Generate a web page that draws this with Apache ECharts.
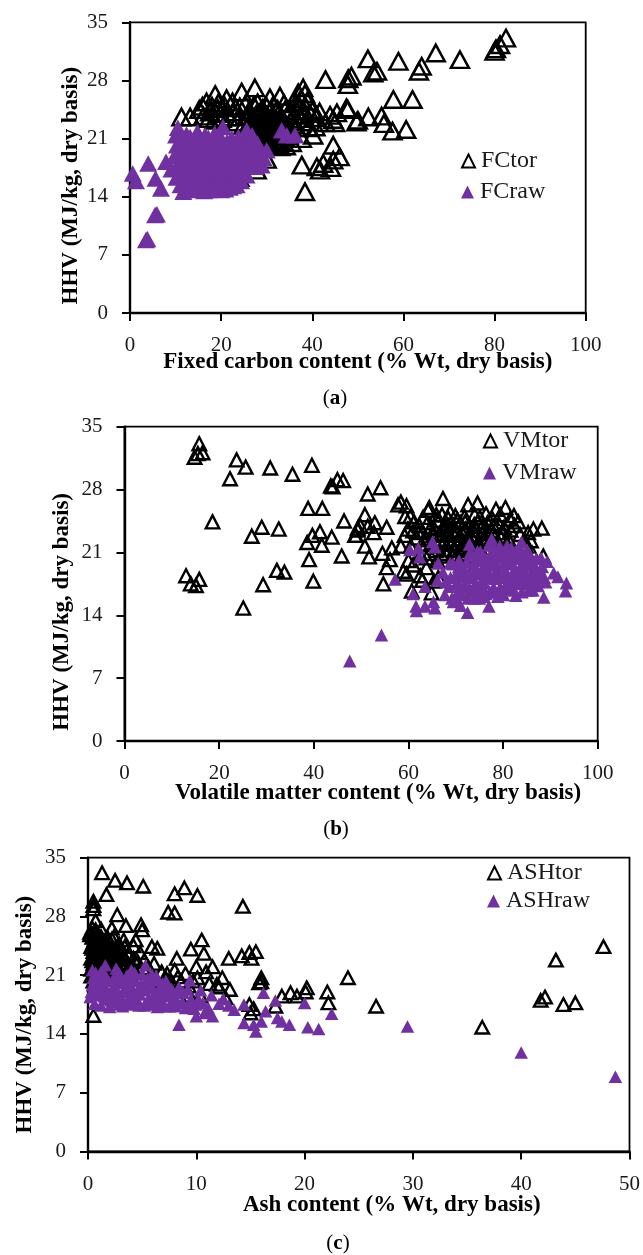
<!DOCTYPE html>
<html><head><meta charset="utf-8">
<style>html,body{margin:0;padding:0;background:#fff}#c{width:643px;height:1255px}</style>
<script src="https://cdn.jsdelivr.net/npm/echarts@6/dist/echarts.min.js"></script>
</head><body><div id="c"></div>
<script>
const fcTor=[[82.5,33.1],[81.2,32.3],[80.3,31.8],[80,31.5],[72.4,30.5],[67.1,31.3],[58.9,30.3],[52.2,30.6],[54.2,29.1],[53.4,28.9],[64,29.7],[63.4,29.1],[42.9,28.1],[48.6,28.5],[47.9,28.2],[47.8,27.5],[57.8,25.7],[62,25.7],[47.8,24.5],[45.4,24.1],[43.9,23.8],[44.6,23.3],[45,22.9],[50,23.2],[52.3,23.6],[55.2,23.7],[55.7,22.8],[57.6,21.9],[60.6,22.1],[44.6,20.2],[46,18.8],[44.6,18.4],[42.4,18],[44.1,17.5],[41.7,17.2],[38.4,14.6],[37.7,17.8],[41,17.6],[40.2,21.4],[37.7,21],[38,27.1],[38.4,26.4],[36.9,26.5],[40.2,24.5],[37.5,25.8],[38.9,25.5],[39.5,24],[36.6,24.4],[47.5,24.7],[49.7,23],[27.4,27.1],[24.5,26.6],[18.7,26.3],[11.3,23.6],[13.2,23.6],[16.8,25.4],[15.9,24.9],[15.2,24.5],[21.2,25.8],[30.7,25.9],[32.9,26.1],[24.1,24.8],[17.6,24.2],[19.3,24.6],[20.8,24.9],[22.7,24.2],[25.7,23.8],[31.4,25],[33.8,25.2],[35,24.3],[29.1,24.6],[26.2,24.4],[18.5,23.2],[16.1,23.7],[20.1,23.4],[23.5,23],[24.9,22.6],[26.6,23.3],[27.7,23.9],[28.3,22.9],[29,23.4],[29.7,22.5],[30.3,23.6],[31,22.8],[31.8,23.3],[32.4,22.4],[33.1,23],[27.3,22.1],[28.1,21.7],[28.9,22.2],[29.5,21.4],[30.4,21.9],[31.1,21.2],[32,21.6],[26.6,21.5],[33.4,21.9],[34.2,22.6],[35.2,23.1],[36.1,22.7],[34.8,21.4],[33,20.7],[32.1,20.4],[30.6,20.6],[29.4,20.9],[28.2,20.7],[27.1,20.3],[33,20],[35.5,20.5],[24,16.3],[27.8,17.2],[24.5,18],[22.6,17.1],[30,18.5],[26.6,19.2],[36.6,22.3],[38.8,23],[40.8,23.5],[42.9,22.9],[34.2,20.1],[28.6,24.2],[25.3,25.1],[22.5,25.4]];
const fcTorDense=[[26.3,22.8],[26.9,21.9],[27.5,23.1],[27.9,22.4],[28.5,21.2],[28.7,23.4],[29.2,22.7],[29.6,21.9],[29.9,23.2],[30.1,21.1],[30.7,22.3],[30.9,23.4],[31.3,21.7],[31.6,22.4],[31.9,20.9],[32.2,23],[32.6,21.8],[32.9,22.5],[33.2,21.2],[33.6,22.4],[27.6,20.9],[28.4,22.4],[29.1,20.6],[30.2,20.3],[31.4,20.1],[32.5,20.8],[26.1,20.8],[27,22.6],[25.6,22.2],[28.8,21.6],[30,22.6],[31.2,22.6],[32.8,23.4],[34,21.3],[34.9,22.2],[35.6,21.7],[17.3,23.4],[19.9,24],[21.6,23.6],[24.2,23.6],[18,24.9],[23.1,24.7],[19.4,25.3],[27.2,25],[28,25.3],[30,24.8],[32.4,24.5],[34,24.4],[36.4,25.3],[37.2,24.9],[38.2,24.3],[41.6,24.2],[36.1,23.8],[37.4,23.4],[39.1,22.3],[40.7,22.4]];
const fcRaw=[[0.6,16.8],[1.3,15.9],[4,18],[5.6,16.2],[6.8,15],[7.9,18.2],[10.5,22.3],[33.3,22],[36.2,21.4],[34.4,21.4],[20.4,22.4],[25.6,22],[28,20.4],[30,19.6],[25.9,17.8],[28.9,17.8],[5.5,11.8],[5.9,11.9],[3.5,8.8],[3.8,8.9],[9.1,17.3],[9.8,18.9],[10.2,16.3],[10.9,19.7],[11.1,15.4],[11.5,20.8],[11.7,14.6],[12.1,17.8],[12.4,21.5],[12.7,16.1],[13,18.9],[13.3,20.1],[13.6,14.8],[13.9,15.6],[14.2,17.1],[14.5,19.2],[14.8,21.8],[15.1,16.7],[15.4,18.2],[15.7,20.6],[16,15.2],[16.3,14.7],[16.6,17.6],[16.9,19.5],[17.2,21.1],[17.5,15.9],[17.8,18.6],[18.1,14.9],[18.4,20.3],[18.7,16.8],[19,17.9],[19.3,19.1],[19.6,21.4],[19.9,15.3],[20.2,16.2],[20.5,18.3],[20.8,20],[21.1,17.2],[21.4,15.6],[21.7,19.3],[22,16.4],[22.3,21],[22.6,18.1],[22.9,20.1],[23.2,16.9],[23.5,19.1],[23.8,21.2],[24.1,17.9],[24.4,15.9],[24.7,18.7],[25,20.3],[25.3,19.4],[25.6,16.6],[26.2,20.9],[26.5,18.8],[27.1,19.6],[27.5,17.6],[28.5,19.3],[29.3,18.7],[12.6,19.4],[14.1,20.5],[15.3,15.1],[17.1,16.1],[18.9,15.2],[20.9,14.9],[11.4,18.3],[13.5,16.5],[16.2,19.8],[18.3,17.6],[22.1,17.7],[24.6,20.6],[26.8,21.4]];
const fcRawDense=[[10.3,20.2],[10.7,18],[11.2,16.9],[11.9,19.1],[12.3,15.2],[12.8,20.7],[13.1,17.4],[13.7,18.4],[14,19.9],[14.4,16],[14.7,14.9],[15,20.9],[15.6,17.5],[15.9,16.3],[16.4,18.7],[16.7,15.6],[17,20.1],[17.4,17.2],[17.7,15.1],[18,19.3],[18.6,15.8],[19.1,20.8],[19.5,16.6],[19.8,18.8],[20,14.8],[20.3,17.4],[20.7,19.2],[21,15.4],[21.3,20.6],[21.6,18.4],[21.9,15.1],[22.4,19.6],[22.8,16],[23.1,17.9],[23.4,15.4],[23.7,18.5],[24,20],[10.1,21.4],[11,21.6],[12,20.4],[13.2,21.2],[14.6,21],[16.5,21.4],[18.6,21.6],[12.9,14.9],[14.9,15.3],[17.3,14.8],[19.2,14.9],[22.6,15.3],[24.9,17.2]];
const vmTor=[[15.8,33.1],[16.5,32.1],[15.5,32],[14.8,31.6],[23.7,31.3],[25.6,30.5],[30.8,30.4],[35.5,29.7],[39.6,30.7],[22.3,29.2],[45,29.1],[46.2,29],[43.6,28.4],[44,28.3],[38.8,25.9],[41.8,25.9],[18.6,24.4],[46.4,24.5],[29,23.8],[32.6,23.6],[26.9,22.8],[41.3,23.3],[39.7,22.9],[43.8,22.7],[38.6,22.1],[41.7,21.8],[45.9,20.6],[39,20.2],[32.2,19],[33.8,18.8],[39.9,17.8],[29.3,17.4],[13,18.4],[15.8,18],[14,17.5],[15.1,17.3],[25.1,14.8],[49.3,23.5],[48.7,22.9],[49.8,24],[51.4,27.5],[54.1,28.2],[58.4,26.6],[57.8,26.3],[59.6,26.2],[67.3,27],[64.4,26],[64.2,25.7],[59.3,25],[68.8,25.5],[72.6,26.3],[74.6,26.5],[78.5,25.8],[80.5,26],[79.4,25.2],[75.1,24.9],[81.5,24.7],[83.2,24.4],[82.3,25.1],[86.4,23.6],[88.2,23.7],[50.8,25.2],[49.3,23.7],[51.4,23.9],[52.9,24.3],[55.4,23.8],[52.7,23.2],[48.9,22.9],[50.8,21.7],[51.7,20.5],[54.5,20.9],[56.5,21.5],[58.4,21.7],[56.1,20.2],[55.4,19.3],[58.9,18.9],[59.6,18.6],[54.7,17.5],[60.7,16.7],[62.5,18.4],[64.9,16.5],[60.4,25],[61.2,24.4],[62.3,24],[63,23.3],[64.7,23.8],[66,24.6],[67.4,23.9],[68.4,24.8],[69.5,24],[70.2,23.2],[71,24.3],[72.1,23.6],[73.2,22.9],[74.3,23.5],[75.6,23.9],[76.7,24.3],[77.5,23.4],[78.4,22.8],[79.8,23.2],[81.2,22.4],[65.2,22.9],[66.7,22.3],[68,22.9],[69,21.9],[70.6,22.5],[71.8,21.6],[73,22.3],[74.7,21.8],[75.9,22.6],[77,21.4],[65.8,21.2],[67.2,20.6],[68.5,21.3],[70,20.4],[71.4,20.9],[72.9,20.5],[74.2,20.8],[63.8,20.4],[62.8,21.9],[61.7,22.6],[60.5,21.7],[59.2,22.9],[66.3,18.2],[63.8,19.3],[88.5,20.6],[86.2,20.9],[84.8,21.7],[83,20.9],[81.8,21.2],[61,19.6],[65.4,17.8]];
const vmTorDense=[[62.1,23.2],[63.3,22.4],[64,24.3],[64.9,22.1],[65.5,23.6],[66.2,21.7],[66.9,23.1],[67.5,22.1],[68.1,24],[68.7,22.4],[69.3,23.3],[69.8,21.4],[70.4,24.6],[70.9,22.9],[71.4,21.9],[72,24.4],[72.5,22.6],[73.1,21.4],[73.6,23.5],[74.1,22.7],[74.7,24.4],[75.2,21.4],[75.7,23.1],[76.3,22.1],[76.9,23.2],[77.4,22.5],[78,23.9],[78.7,21.9],[79.1,24.2],[79.6,22.6],[80.2,23.8],[80.9,21.9],[81.6,23.5],[82.4,24],[67.9,20.9],[69.5,20.7],[70.9,21.2],[72.3,20.8],[73.7,20.6],[75.4,20.5],[64.4,20.9],[66.1,20.1],[65.9,25.2],[69.9,25.1],[71.9,25],[74,25.2],[76.4,25.3],[61,23.4],[62.5,20.8],[63.1,24.9],[67.1,25.2],[68.2,23.5],[71.5,23],[73.9,24.1],[77.7,24.8],[83.6,23],[84.5,22.4],[85.3,23.2],[85.9,22.3],[60,20.1],[62.9,17.9],[59.9,23.6]];
const vmRaw=[[47.6,8.9],[54.3,11.8],[57.2,18],[60.3,21.3],[62.1,21.5],[62.4,20.5],[65.1,22.2],[65.6,21.6],[66.3,19.8],[72.9,21.9],[77.6,22.5],[83.9,22.2],[68.8,19.8],[63.5,17.2],[66.1,17.9],[61,16.4],[61.6,15],[61.7,14.5],[65.3,15.5],[65.6,14.8],[63.5,15],[67.7,16.3],[69.5,15.5],[72.5,14.3],[77,15],[82.7,16.2],[88.6,16],[93.2,16.7],[93.4,17.6],[91.6,18.3],[89.3,20],[90.7,18.7],[86.3,16.8],[87.1,17.6],[78.9,16.1],[68.6,17.2],[69.9,18.4],[70.4,16.6],[71.3,19.1],[71.9,17.4],[72.6,15.9],[73.2,18.2],[73.8,19.7],[74.4,16.9],[74.9,18.6],[75.5,20.6],[76.1,17.6],[76.6,19.1],[77.2,16.6],[77.8,20.1],[78.3,18.1],[78.9,19.5],[79.4,17.1],[79.9,20.9],[80.5,18.7],[81,16.9],[81.5,19.9],[82.1,18.1],[82.6,21.1],[83.2,17.5],[83.7,19.3],[84.3,20.7],[84.8,18.3],[85.4,16.8],[85.9,19.6],[86.5,18.5],[87,20.3],[87.7,18.9],[88.3,19.4],[89,17.7],[75.2,21.1],[73.6,20.6],[70.7,20.1],[78.1,21.4],[80.8,21.7],[82.9,20.4],[85.1,21.3],[69.2,15.9],[67.3,18.8],[71,15.1],[75,15.9],[80.1,16.3],[84,16.6]];
const vmRawDense=[[70.1,17.5],[71,18.3],[71.6,16.3],[72.3,19.9],[72.9,17],[73.5,16.7],[74.1,18.7],[74.7,20.1],[75.3,17.1],[75.8,19.4],[76.4,16.4],[76.9,18.3],[77.5,20.9],[78,17.1],[78.6,18.9],[79.1,20.4],[79.7,16.7],[80.2,19.3],[80.8,17.6],[81.3,20.6],[81.9,17],[82.4,19.1],[83,18.4],[83.5,20.3],[84.1,17.8],[84.6,19.7],[85.2,17.5],[85.7,20.7],[86.2,17.9],[86.9,19.2],[87.4,17.3],[88,20.4],[88.7,18.2],[72.1,18.8],[73,20.9],[74.6,21.1],[76.2,20.4],[77,21.8],[79.3,21.7],[80.5,21.1],[81.7,21.5],[83.4,21.5],[84.7,20.2],[86.1,20.1],[70.6,19.4],[69.4,19.7],[68.9,18.2],[67.9,17.7],[78.2,16.6],[82.3,16.8],[76,16.1],[73.9,15.9],[70,15.9],[70.9,17.2],[72.7,18.5],[74.2,17.6],[75.9,18.2],[77.3,19.6],[79,18.2],[80.4,19.9],[82,19.7],[83.3,19],[84.6,18.9],[86,18.8],[87.4,18.4],[73.4,19.3],[76.6,20.2],[78.8,20.8],[81,18.3]];
const ashTor=[[1.3,33.2],[2.5,32.3],[3.6,32],[5.1,31.6],[1.7,30.6],[8.9,31.4],[8,30.7],[10.1,30.5],[14.3,29.2],[0.5,29.8],[0.5,29.3],[0.5,28.9],[2.7,28.2],[7.4,28.5],[8,28.4],[0.7,27.5],[3.5,26.9],[4.9,27],[5,26.4],[2.2,26.6],[1.2,26.5],[10.5,25.2],[5.9,24.4],[6.4,24.2],[9.5,24.1],[10.7,23.6],[3.7,23.4],[4.6,22.6],[8.2,23],[13,23],[14.2,23.3],[14.9,23.7],[15.5,23.8],[15.1,23],[10,22],[11.5,22],[10.9,21.4],[8,21.6],[6.8,21.4],[12.4,20.7],[16,20.7],[16,20.2],[24,20.7],[20.2,19.5],[22.1,19],[22.2,17.7],[18.7,18.9],[17.9,18.5],[19.3,18.5],[20.1,19],[14.9,17.5],[15.3,17],[15,16.5],[0.5,16.2],[17.3,17.3],[12.1,19.6],[7.5,18.9],[10.4,18.5],[11.2,20],[26.6,17.3],[36.4,14.8],[47.6,24.4],[43.2,22.8],[41.8,18],[42.2,18.4],[43.9,17.5],[45,17.7],[0.2,25.8],[0.4,26.6],[0.6,25.2],[0.8,26.1],[1,24.9],[1.2,25.6],[1.4,24.3],[1.6,25.1],[1.8,24.6],[2,23.9],[2.2,25.3],[0.3,24.4],[0.5,23.8],[0.7,24.7],[0.9,23.2],[1.1,23.9],[1.3,22.8],[1.5,23.5],[1.7,22.4],[1.9,23.1],[2.1,22.2],[2.4,24.1],[2.6,23.3],[2.9,24.7],[3.2,22.5],[0.4,22.7],[0.6,22],[0.8,21.4],[1,22.3],[1.2,21.1],[1.4,21.8],[1.7,21.2],[2,21.6],[2.3,20.9],[2.8,21.9],[3.1,23.6],[3.5,21.2],[4.1,22],[0.3,20.9],[0.5,20.3],[5.3,21.3],[5.9,20.3],[6.5,19.6],[7.2,20.6],[8.6,20.3],[9.3,19.7],[4.5,19.6],[3.3,25.2],[4.2,24.5],[4.4,25.2]];
const ashTorDense=[[0.2,26.1],[0.4,25.5],[0.5,24.9],[0.6,23.4],[0.7,26.4],[0.8,24.2],[0.9,25.4],[1,23.6],[1.1,24.6],[1.2,22.6],[1.3,25],[1.4,23.1],[1.5,24.6],[1.6,22.9],[1.7,23.9],[1.8,25.5],[1.9,22.1],[2,24.9],[2.1,23.6],[2.2,24.4],[2.3,22.6],[2.4,25.6],[2.5,23.8],[2.6,22.1],[2.7,24.3],[2.8,23.1],[2.9,22.4],[3,24],[3.1,22.2],[3.3,23.3],[3.4,24.4],[3.6,22.4],[3.8,23.6],[4,21.6],[4.2,23],[4.4,21.4],[0.3,23],[0.5,22.4],[0.7,21.1],[0.9,21.9],[1.1,21.5],[1.3,20.7],[1.5,22.3],[1.8,21.9],[2.1,20.8],[2.5,21.4],[3,21],[3.4,20.5],[0.3,21.7],[0.4,24.2],[4.8,23.7],[5.2,22.8],[5.6,21.9],[6.1,22.4],[7.3,21.2],[7.7,20.2],[8.3,20.8],[9,21.2],[9.7,20.3],[10.1,20.7],[11.9,19.9],[13.1,19.3],[12.7,18.3],[15.8,20.1],[9.4,18.6],[8.5,18.3]];
const ashRaw=[[40,11.8],[48.7,8.9],[29.5,14.9],[5.3,22.2],[4,21.6],[1.6,22.2],[0.4,21.6],[2.6,21.8],[6.5,20.4],[9.4,20.4],[10.4,19.2],[11.4,18.6],[8.8,18.9],[12.5,18.2],[16.2,18.9],[17.3,18],[20,17.7],[22.5,16.4],[8.4,15.1],[14.4,17.5],[13.5,16.9],[14.4,15.3],[15.5,14.3],[15.3,15.1],[16.4,16.7],[17.5,15.9],[17.9,15.5],[18.6,15.1],[20.3,14.8],[21.3,14.6],[11.1,17.1],[10,16.1],[11.5,16.1],[16,15.5],[0.2,18.4],[0.4,19.8],[0.6,17.6],[0.8,20.6],[1,18.9],[1.2,17.4],[1.4,19.9],[1.6,21],[1.8,18.2],[2,17.2],[2.2,19.3],[2.4,20.7],[2.6,17.8],[2.8,18.8],[3,20.1],[3.2,17.3],[3.4,19.5],[3.6,21],[3.8,18.1],[4,17.5],[4.2,19.1],[4.4,20.3],[4.6,17.9],[4.8,18.7],[5,21.1],[5.2,17.4],[5.4,19.6],[5.6,18.3],[5.8,17.8],[6,20.4],[6.2,18.9],[6.4,17.2],[6.6,19.4],[6.8,17.7],[7,18.5],[7.3,19.4],[7.5,17.3],[7.8,18],[8.1,17.3],[8.4,19.6],[8.7,17.8],[9,17.1],[9.5,18.1],[10,17.5],[10.8,16.6],[7.2,20.3],[3.1,18.4],[1.1,20.1],[2.3,18.6],[4.9,19.9],[9.8,17],[11,16.5],[13,17.4],[12.1,17.6]];
const ashRawDense=[[0.3,19],[0.5,20.7],[0.7,18.6],[0.9,19.6],[1.3,20.9],[1.5,18.5],[1.7,19.3],[1.9,20.3],[2.1,18],[2.5,19.6],[2.7,21],[2.9,17.5],[3.3,19],[3.5,20.4],[3.7,17.9],[3.9,19.9],[4.1,18.5],[4.3,21.3],[4.5,18.9],[4.7,17.4],[5.1,19.2],[5.5,20.6],[5.7,17.5],[5.9,19.5],[6.1,18.2],[6.3,20.9],[6.5,17.7],[6.7,18.6],[6.9,20],[7.1,17.3],[7.4,18.7],[7.7,19.4],[8,18.4],[8.3,17.7],[8.6,18.9],[9.2,19.3],[9.6,17.6],[10.2,18.1],[10.6,17.7],[1.2,21.4],[2.9,21.2],[3.9,20.8],[0.7,21.3],[5.9,21.1]];
const F='"Liberation Serif",serif';
const panels=[
 {n:'a',torName:'FCtor',rawName:'FCraw',tor:fcTor.concat(fcTorDense),raw:fcRaw.concat(fcRawDense),xMax:100,xInt:20,xName:'Fixed carbon content (% Wt, dry basis)',yPad:[0,36,0,0],xPad:[0,0,0,0],yGap:47,xGap:38,
  g:{left:130,top:22.3,width:455.7,height:290.7},sz:[18,16.5],bw:2.5,leg:[[461,149],[461,180]]},
 {n:'b',torName:'VMtor',rawName:'VMraw',tor:vmTor.concat(vmTorDense),raw:vmRaw.concat(vmRawDense),xMax:100,xInt:20,xName:'Volatile matter content (% Wt, dry basis)',yPad:[0,56,0,0],xPad:[0,0,0,34],yGap:51,xGap:41,
  g:{left:124.5,top:426.7,width:473.2,height:314.3},sz:[13.5,13],bw:2.4,leg:[[483,429],[483,461]]},
 {n:'c',torName:'ASHtor',rawName:'ASHraw',tor:ashTor.concat(ashTorDense),raw:ashRaw.concat(ashRawDense),xMax:50,xInt:10,xName:'Ash content (% Wt, dry basis)',yPad:[0,20,0,0],xPad:[0,0,0,66],yGap:51,xGap:42,
  g:{left:88,top:857.7,width:544,height:293.8},sz:[13.5,12.5],bw:2.4,leg:[[487,861],[487,889]]}
];
const grid=[],xAxis=[],yAxis=[],series=[],legend=[],title=[];
const axisLine={show:true,onZero:false,lineStyle:{color:'#000',width:2.4}};
const axisTick={show:true,length:8,inside:false,lineStyle:{color:'#000',width:2}};
panels.forEach((p,i)=>{
 grid.push(Object.assign({show:true,borderColor:'#000',borderWidth:1.8,backgroundColor:'transparent',containLabel:false},p.g));
 xAxis.push({type:'value',gridIndex:i,min:0,max:p.xMax,interval:p.xInt,splitLine:{show:false},axisLine,axisTick,
  axisLabel:{margin:22,fontFamily:F,fontSize:21,color:'#1a1a1a',hideOverlap:false},
  name:p.xName,nameLocation:'middle',nameGap:p.xGap,nameMoveOverlap:false,nameTextStyle:{fontFamily:F,fontWeight:'bold',fontSize:23,color:'#000',padding:p.xPad}});
 yAxis.push({type:'value',gridIndex:i,min:0,max:35,interval:7,splitLine:{show:false},axisLine,axisTick,
  axisLabel:{margin:22,fontFamily:F,fontSize:21,color:'#1a1a1a'},
  name:'HHV (MJ/kg, dry basis)',nameLocation:'middle',nameRotate:90,nameGap:p.yGap,nameMoveOverlap:false,nameTextStyle:{fontFamily:F,fontWeight:'bold',fontSize:23,color:'#000',padding:p.yPad}});
 series.push({name:p.torName,type:'scatter',xAxisIndex:i,yAxisIndex:i,symbol:'triangle',symbolSize:p.sz,data:p.tor,z:2,large:false,
  itemStyle:{color:'rgba(0,0,0,0)',borderColor:'#000',borderWidth:p.bw,opacity:1},emphasis:{disabled:true}});
 series.push({name:p.rawName,type:'scatter',xAxisIndex:i,yAxisIndex:i,symbol:'triangle',symbolSize:p.sz,data:p.raw,z:3,large:false,
  itemStyle:{color:'#7030A0',opacity:1},emphasis:{disabled:true}});
 [p.torName,p.rawName].forEach((nm,j)=>legend.push({data:[nm],left:p.leg[j][0],top:p.leg[j][1],icon:'triangle',itemWidth:13,itemHeight:13,itemGap:0,padding:0,selectedMode:false,
   textStyle:{fontFamily:F,fontSize:24,color:'#1a1a1a',padding:[0,0,0,1]}}));
 const capY=[383,814,1228][i], capX=[330,331,333][i];
 title.push({text:'({b|'+p.n+'})',left:capX,top:capY,textAlign:'center',textStyle:{fontFamily:F,fontSize:21,fontWeight:'normal',color:'#000',rich:{b:{fontFamily:F,fontSize:21,fontWeight:'bold',color:'#000'}}}});
});
const chart=echarts.init(document.getElementById('c'),null,{renderer:'canvas'});
chart.setOption({animation:false,backgroundColor:'#fff',tooltip:{show:false},grid,xAxis,yAxis,series,legend,title});
</script></body></html>
